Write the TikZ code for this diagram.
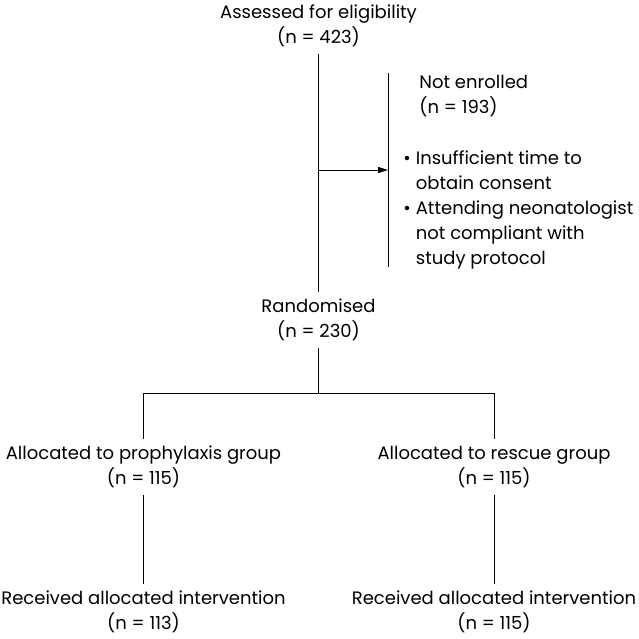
\documentclass[tikz,border=0pt]{standalone}
\usepackage{fontspec}
\setmainfont{Poppins}
\usetikzlibrary{arrows.meta}

\begin{document}
\begin{tikzpicture}[x=1pt, y=-1pt, line width=0.9pt,
	txt/.style={align=center, inner xsep=0pt, inner ysep=7pt, font=\fontsize{18}{25}\selectfont},
	txtl/.style={txt, align=left},
	arr/.style={-{Triangle[length=10pt, width=6pt]}}]
	\useasboundingbox (0, 0) rectangle (638, 639);

	\node[txt] (assess) at (318.5, 26) {Assessed for eligibility\\(n = 423)};
	\node[txtl, anchor=west] (enrol) at (419, 96) {Not enrolled\\(n = 193)};
	\node[txtl, anchor=west] (reasons) at (403, 209) {\begin{tabular}{@{}l@{\hspace{5pt}}l@{}}
		\textbullet & Insufficient time to\\
		 & obtain consent\\
		\textbullet & Attending neonatologist\\
		 & not compliant with\\
		 & study protocol
	\end{tabular}};

	\node[txt] (rand) at (318.5, 320) {Randomised\\(n = 230)};
	\node[txt] (proph) at (143.5, 467) {Allocated to prophylaxis group\\(n = 115)};
	\node[txt] (resc) at (494, 467) {Allocated to rescue group\\(n = 115)};
	\node[txt] (recv1) at (143.5, 612) {Received allocated intervention\\(n = 113)};
	\node[txt] (recv2) at (494, 612) {Received allocated intervention\\(n = 115)};

	\coordinate (bartop) at (388, 73);
	\coordinate (barbot) at (388, 267);
	\coordinate (mid) at (388, 170);
	\coordinate (fork) at (318.5, 393);

	\draw (assess.south) -- (rand.north);
	\draw[arr] (assess.south |- mid) -- (mid);
	\draw (bartop) -- (barbot);
	\draw (rand.south) -- (fork);
	\draw (proph.north) -- (proph.north |- fork) -- (resc.north |- fork) -- (resc.north);
	\draw (proph.south) -- (recv1.north);
	\draw (resc.south) -- (recv2.north);
\end{tikzpicture}
\end{document}
